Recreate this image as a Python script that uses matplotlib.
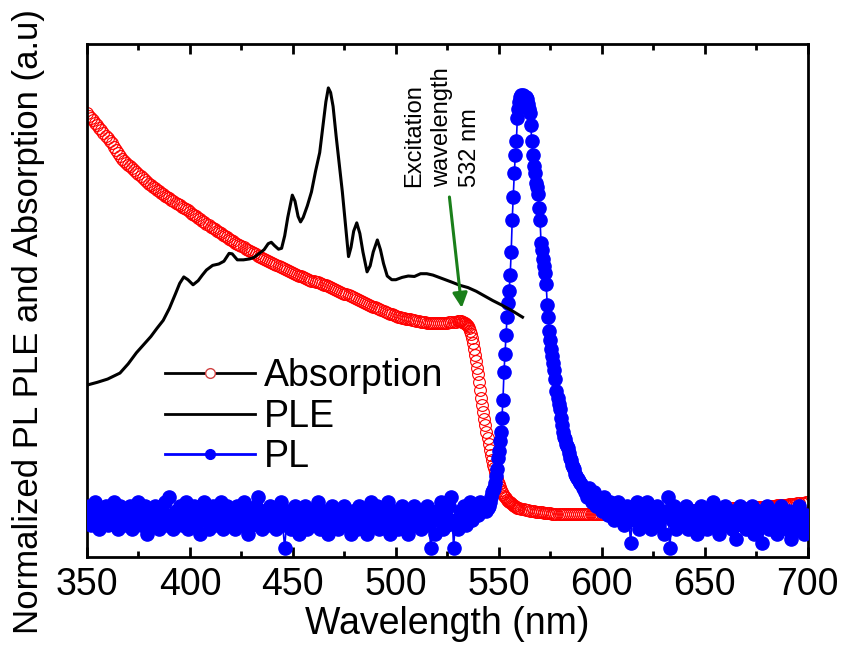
import numpy as np
import matplotlib
matplotlib.use("Agg")
from matplotlib import pyplot as plt
from matplotlib.lines import Line2D

plt.rcParams['font.family'] = ['Liberation Sans', 'DejaVu Sans']

# Absorption (normalized), three wavelength blocks
abs_nm_a = np.arange(350, 531, 1)
abs_a = [0.960, 0.955, 0.950, 0.945, 0.940, 0.935, 0.929, 0.924, 0.918, 0.912,
         0.906, 0.901, 0.895, 0.888, 0.880, 0.874, 0.868, 0.862, 0.857, 0.853,
         0.849, 0.845, 0.841, 0.837, 0.833, 0.829, 0.825, 0.820, 0.816, 0.812,
         0.808, 0.804, 0.801, 0.798, 0.795, 0.791, 0.788, 0.785, 0.782, 0.779,
         0.776, 0.773, 0.770, 0.767, 0.764, 0.761, 0.758, 0.755, 0.752, 0.750,
         0.747, 0.743, 0.740, 0.737, 0.734, 0.731, 0.728, 0.724, 0.721, 0.718,
         0.715, 0.712, 0.709, 0.706, 0.703, 0.700, 0.697, 0.695, 0.692, 0.689,
         0.686, 0.683, 0.680, 0.677, 0.675, 0.672, 0.670, 0.667, 0.665, 0.662,
         0.660, 0.657, 0.655, 0.652, 0.650, 0.647, 0.645, 0.642, 0.640, 0.638,
         0.636, 0.633, 0.631, 0.629, 0.627, 0.625, 0.623, 0.621, 0.619, 0.617,
         0.615, 0.613, 0.611, 0.609, 0.607, 0.605, 0.603, 0.601, 0.600, 0.598,
         0.597, 0.595, 0.594, 0.592, 0.591, 0.589, 0.588, 0.586, 0.584, 0.582,
         0.580, 0.578, 0.576, 0.574, 0.572, 0.570, 0.568, 0.566, 0.564, 0.562,
         0.560, 0.558, 0.556, 0.554, 0.552, 0.550, 0.548, 0.546, 0.544, 0.542,
         0.540, 0.538, 0.536, 0.534, 0.532, 0.530, 0.528, 0.526, 0.525, 0.523,
         0.522, 0.520, 0.519, 0.518, 0.517, 0.516, 0.515, 0.514, 0.513, 0.512,
         0.511, 0.510, 0.509, 0.508, 0.508, 0.507, 0.507, 0.506, 0.506, 0.506,
         0.506, 0.506, 0.506, 0.506, 0.507, 0.507, 0.508, 0.508, 0.509, 0.509,
         0.510]
abs_nm_b = np.arange(530.5, 560.1, 0.5)
abs_b = [0.510, 0.510, 0.510, 0.509, 0.508, 0.507, 0.506, 0.504, 0.502, 0.499,
         0.495, 0.490, 0.483, 0.474, 0.462, 0.450, 0.437, 0.424, 0.410, 0.395,
         0.379, 0.362, 0.345, 0.329, 0.314, 0.299, 0.285, 0.271, 0.257, 0.244,
         0.232, 0.220, 0.210, 0.200, 0.192, 0.184, 0.176, 0.169, 0.163, 0.157,
         0.151, 0.146, 0.141, 0.137, 0.133, 0.130, 0.127, 0.124, 0.122, 0.120,
         0.118, 0.116, 0.114, 0.112, 0.111, 0.110, 0.108, 0.107, 0.106, 0.105]
abs_nm_c = np.arange(561, 701, 1)
abs_c = [0.104, 0.103, 0.102, 0.101, 0.100, 0.099, 0.099, 0.098, 0.098, 0.097,
         0.097, 0.096, 0.096, 0.095, 0.095, 0.094, 0.094, 0.094, 0.093, 0.093,
         0.093, 0.093, 0.092, 0.092, 0.092, 0.092, 0.092, 0.092, 0.092, 0.092,
         0.092, 0.092, 0.092, 0.092, 0.092, 0.092, 0.092, 0.093, 0.093, 0.093,
         0.093, 0.093, 0.093, 0.094, 0.094, 0.094, 0.094, 0.094, 0.095, 0.095,
         0.095, 0.095, 0.095, 0.096, 0.096, 0.096, 0.096, 0.096, 0.096, 0.096,
         0.097, 0.097, 0.097, 0.097, 0.097, 0.097, 0.098, 0.098, 0.098, 0.098,
         0.098, 0.098, 0.099, 0.099, 0.099, 0.099, 0.099, 0.099, 0.100, 0.100,
         0.100, 0.100, 0.100, 0.100, 0.101, 0.101, 0.101, 0.101, 0.101, 0.101,
         0.102, 0.102, 0.102, 0.102, 0.103, 0.103, 0.103, 0.103, 0.104, 0.104,
         0.104, 0.104, 0.105, 0.105, 0.105, 0.105, 0.106, 0.106, 0.106, 0.106,
         0.107, 0.107, 0.107, 0.108, 0.108, 0.108, 0.108, 0.109, 0.109, 0.110,
         0.110, 0.110, 0.111, 0.111, 0.112, 0.112, 0.112, 0.113, 0.113, 0.113,
         0.114, 0.114, 0.115, 0.115, 0.116, 0.116, 0.117, 0.117, 0.118, 0.118]

# PLE spectrum
ple_nm = [350, 355, 360, 366, 370, 374, 378, 381, 384, 387,
          390, 393, 395, 397, 399, 401.5, 404, 406, 408, 411,
          414, 416.5, 419, 420.5, 423, 426, 429, 431, 434, 436,
          438, 439.5, 441, 443, 444.5, 446, 447.5, 449.7, 451, 452.5,
          453.7, 455, 457, 459, 461, 463, 464.5, 466, 467.2, 468.3,
          469.5, 471, 472.5, 474, 475.5, 477, 478.2, 479.5, 481, 482.5,
          484, 486, 487.5, 489, 491, 492.5, 494, 495.8, 498, 500,
          503, 506, 509, 512, 515, 518, 521, 524, 527, 531,
          535, 539, 543, 547, 551, 556, 561.5]
ple = [0.372, 0.378, 0.385, 0.398, 0.418, 0.442, 0.462, 0.477, 0.495, 0.512,
       0.538, 0.570, 0.592, 0.606, 0.600, 0.589, 0.598, 0.610, 0.621, 0.631,
       0.634, 0.640, 0.657, 0.656, 0.643, 0.643, 0.645, 0.648, 0.658, 0.665,
       0.678, 0.681, 0.674, 0.666, 0.668, 0.695, 0.735, 0.783, 0.770, 0.737,
       0.725, 0.735, 0.760, 0.790, 0.835, 0.875, 0.930, 0.985, 1.015, 1.005,
       0.975, 0.910, 0.850, 0.790, 0.720, 0.650, 0.670, 0.705, 0.723, 0.700,
       0.660, 0.617, 0.630, 0.660, 0.686, 0.665, 0.635, 0.608, 0.600, 0.600,
       0.605, 0.608, 0.607, 0.613, 0.613, 0.610, 0.605, 0.600, 0.595, 0.588,
       0.583, 0.575, 0.565, 0.555, 0.546, 0.534, 0.519]

# PL spectrum: noisy baseline, emission peak, noisy baseline
pl_nm_a = np.arange(350, 544, 1)
pl_a = [0.09, 0.11, 0.07, 0.10, 0.12, 0.08, 0.06, 0.10, 0.09, 0.11,
        0.07, 0.10, 0.08, 0.12, 0.09, 0.06, 0.11, 0.08, 0.10, 0.07,
        0.09, 0.11, 0.06, 0.08, 0.10, 0.12, 0.07, 0.09, 0.11, 0.05,
        0.08, 0.10, 0.07, 0.11, 0.09, 0.06, 0.10, 0.08, 0.12, 0.07,
        0.13, 0.09, 0.06, 0.10, 0.08, 0.11, 0.07, 0.09, 0.12, 0.06,
        0.10, 0.08, 0.11, 0.07, 0.09, 0.05, 0.10, 0.12, 0.08, 0.06,
        0.09, 0.11, 0.07, 0.10, 0.08, 0.12, 0.06, 0.09, 0.11, 0.07,
        0.08, 0.10, 0.06, 0.11, 0.09, 0.07, 0.12, 0.08, 0.05, 0.10,
        0.07, 0.09, 0.11, 0.13, 0.08, 0.06, 0.10, 0.09, 0.07, 0.11,
        0.08, 0.10, 0.06, 0.09, 0.12, 0.07, 0.02, 0.08, 0.10, 0.06,
        0.09, 0.11, 0.07, 0.05, 0.10, 0.08, 0.11, 0.06, 0.09, 0.07,
        0.10, 0.08, 0.12, 0.06, 0.09, 0.07, 0.10, 0.05, 0.08, 0.11,
        0.07, 0.09, 0.06, 0.10, 0.08, 0.11, 0.07, 0.09, 0.05, 0.10,
        0.08, 0.06, 0.11, 0.09, 0.07, 0.10, 0.05, 0.08, 0.12, 0.07,
        0.09, 0.11, 0.06, 0.08, 0.10, 0.07, 0.12, 0.05, 0.09, 0.08,
        0.10, 0.06, 0.09, 0.11, 0.07, 0.08, 0.05, 0.10, 0.08, 0.11,
        0.07, 0.09, 0.06, 0.10, 0.08, 0.11, 0.07, 0.02, 0.09, 0.05,
        0.10, 0.08, 0.12, 0.06, 0.09, 0.07, 0.11, 0.13, 0.02, 0.08,
        0.06, 0.10, 0.08, 0.11, 0.07, 0.09, 0.12, 0.08, 0.10, 0.11,
        0.09, 0.12, 0.10, 0.11]
pl_nm_b = np.arange(544, 590.1, 0.5)
pl_b = [0.10, 0.105, 0.11, 0.12, 0.13, 0.14, 0.145, 0.15, 0.16, 0.175,
        0.19, 0.215, 0.23, 0.25, 0.27, 0.30, 0.34, 0.40, 0.44, 0.48,
        0.52, 0.55, 0.575, 0.61, 0.66, 0.73, 0.78, 0.83, 0.87, 0.90,
        0.95, 0.97, 0.985, 0.995, 1.0, 1.0, 0.995, 0.99, 0.995, 0.99,
        0.98, 0.97, 0.96, 0.935, 0.90, 0.87, 0.845, 0.83, 0.81, 0.80,
        0.785, 0.755, 0.73, 0.68, 0.665, 0.645, 0.63, 0.615, 0.59, 0.545,
        0.52, 0.49, 0.47, 0.45, 0.435, 0.42, 0.405, 0.385, 0.36, 0.345,
        0.33, 0.32, 0.30, 0.285, 0.27, 0.26, 0.255, 0.245, 0.24, 0.235,
        0.225, 0.215, 0.21, 0.20, 0.195, 0.19, 0.18, 0.175, 0.172, 0.168,
        0.165, 0.16, 0.158]
pl_nm_c = np.arange(591, 701, 1)
pl_c = [0.15, 0.14, 0.13, 0.15, 0.12, 0.14, 0.11, 0.13, 0.12, 0.10,
        0.13, 0.11, 0.09, 0.12, 0.10, 0.08, 0.11, 0.12, 0.09, 0.10,
        0.07, 0.11, 0.09, 0.03, 0.10, 0.08, 0.12, 0.06, 0.09, 0.11,
        0.07, 0.12, 0.09, 0.06, 0.10, 0.08, 0.11, 0.07, 0.09, 0.05,
        0.10, 0.13, 0.02, 0.08, 0.11, 0.06, 0.09, 0.10, 0.07, 0.08,
        0.11, 0.06, 0.09, 0.07, 0.10, 0.05, 0.08, 0.11, 0.07, 0.09,
        0.06, 0.10, 0.08, 0.12, 0.07, 0.09, 0.05, 0.10, 0.08, 0.11,
        0.07, 0.09, 0.06, 0.10, 0.04, 0.08, 0.11, 0.07, 0.09, 0.06,
        0.10, 0.08, 0.11, 0.05, 0.09, 0.07, 0.10, 0.03, 0.08, 0.11,
        0.06, 0.09, 0.07, 0.10, 0.05, 0.08, 0.11, 0.07, 0.09, 0.06,
        0.10, 0.04, 0.08, 0.09, 0.06, 0.11, 0.07, 0.05, 0.09, 0.08]

excitation_nm = 532

abs_nm = np.concatenate([abs_nm_a, abs_nm_b, abs_nm_c])
abs_val = np.concatenate([abs_a, abs_b, abs_c])
pl_nm = np.concatenate([pl_nm_a, pl_nm_b, pl_nm_c])
pl_val = np.concatenate([pl_a, pl_b, pl_c])

fig = plt.figure(figsize=(8.44, 6.52), dpi=100)
ax = fig.add_axes([0.1031, 0.1457, 0.8539, 0.7868])

ax.plot(abs_nm, abs_val, linestyle='none', marker='o', markersize=8.5,
        markerfacecolor='none', markeredgecolor='red', markeredgewidth=0.8,
        zorder=2)
ax.plot(pl_nm, pl_val, color='blue', linewidth=1.2, marker='o',
        markersize=9.5, markerfacecolor='blue', markeredgecolor='blue',
        zorder=3)
ax.plot(ple_nm, ple, color='black', linewidth=2.2, zorder=4)

# excitation arrow and note
ax.annotate('', xy=(excitation_nm, 0.539), xytext=(526, 0.779),
            arrowprops=dict(arrowstyle='-|>', color='#1a7f1a', lw=2.2,
                            mutation_scale=22, shrinkA=0, shrinkB=0),
            zorder=5)
ax.text(522.5, 0.93, 'Excitation\nwavelength\n532 nm', rotation=90,
        ha='center', va='center', multialignment='left', fontsize=17,
        linespacing=1.35)

ax.set_xlim(350, 700)
ax.set_ylim(0, 1.11)
ax.set_xticks(np.arange(350, 701, 50))
ax.set_xticks(np.arange(375, 700, 50), minor=True)
ax.set_yticks([])
ax.tick_params(axis='x', which='both', direction='in', top=True,
               labelsize=27, width=2, pad=7)
ax.tick_params(axis='x', which='major', length=7)
ax.tick_params(axis='x', which='minor', length=4)
for sp in ax.spines.values():
    sp.set_linewidth(2)

ax.set_xlabel('Wavelength (nm)', fontsize=27, labelpad=2)
ax.set_ylabel('Normalized PL PLE and Absorption (a.u)', fontsize=25)
ax.yaxis.set_label_coords(-0.058, 0.458)

handles = [
    Line2D([], [], color='black', linewidth=2, marker='o', markersize=7,
           markerfacecolor='white', markeredgecolor='#d04040', markeredgewidth=1),
    Line2D([], [], color='black', linewidth=2),
    Line2D([], [], color='blue', linewidth=2, marker='o', markersize=7),
]
ax.legend(handles, ['Absorption', 'PLE', 'PL'], loc='center left',
          bbox_to_anchor=(0.108, 0.273), frameon=False, fontsize=27,
          handlelength=2.4, handletextpad=0.25, labelspacing=0.12,
          borderpad=0, borderaxespad=0)

fig.savefig('out.png', dpi=100)
